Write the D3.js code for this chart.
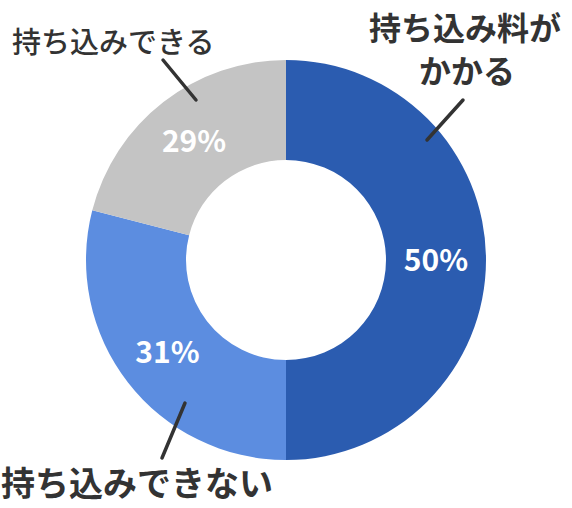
<!DOCTYPE html>
<html>
<head>
<meta charset="utf-8">
<script src="https://cdn.jsdelivr.net/npm/d3@7"></script>
<style>
  body { margin: 0; background: #fff; }
  svg { display: block; font-family: "Noto Sans CJK JP", "Noto Sans", sans-serif; }
</style>
</head>
<body>
<div id="main"></div>
<script>
// chart data
const categories = ['持ち込み料がかかる', '持ち込みできない', '持ち込みできる'];
const sliceValues = [50, 29, 21];
const percentLabels = ['50%', '31%', '29%'];
const colors = ['#2b5cb0', '#5c8de0', '#c4c4c4'];

const svgWidth = 572;
const svgHeight = 508;
const center = { x: 286, y: 260 };
const outerRadius = 200;
const innerRadius = 100;

const svg = d3.select('#main')
  .append('svg')
  .attr('width', svgWidth)
  .attr('height', svgHeight);

const pie = d3.pie()
  .sort(null)
  .value((d) => d.value);

const arc = d3.arc()
  .innerRadius(innerRadius)
  .outerRadius(outerRadius);

const labelArc = d3.arc()
  .innerRadius(150)
  .outerRadius(150);

const dataset = categories.map((c, i) => ({ key: c, value: sliceValues[i], label: percentLabels[i] }));
const arcs = pie(dataset);

const g = svg.append('g')
  .attr('transform', `translate(${center.x}, ${center.y})`);

g.selectAll('path')
  .data(arcs)
  .enter()
  .append('path')
  .attr('d', arc)
  .attr('fill', (d, i) => colors[i]);

g.selectAll('text.pct')
  .data(arcs)
  .enter()
  .append('text')
  .attr('class', 'pct')
  .attr('x', (d) => labelArc.centroid(d)[0])
  .attr('y', (d) => labelArc.centroid(d)[1])
  .attr('text-anchor', 'middle')
  .attr('dy', '0.36em')
  .attr('fill', '#fff')
  .attr('font-size', 30)
  .attr('font-weight', 700)
  .text((d) => d.data.label);

// leader lines from each slice out to its category label
const leaders = [
  [[427, 140], [463, 100]],
  [[185, 403], [162, 458]],
  [[196, 100], [163, 60]]
];

svg.selectAll('line.leader')
  .data(leaders)
  .enter()
  .append('line')
  .attr('class', 'leader')
  .attr('x1', (d) => d[0][0])
  .attr('y1', (d) => d[0][1])
  .attr('x2', (d) => d[1][0])
  .attr('y2', (d) => d[1][1])
  .attr('stroke', '#333')
  .attr('stroke-width', 3.5)
  .attr('stroke-linecap', 'round');

// category labels
const topRight = svg.append('text')
  .attr('text-anchor', 'middle')
  .attr('fill', '#333')
  .attr('font-size', 32)
  .attr('font-weight', 700);
topRight.append('tspan').attr('x', 465).attr('y', 40).text('持ち込み料が');
topRight.append('tspan').attr('x', 467).attr('y', 83).text('かかる');

svg.append('text')
  .attr('x', 12)
  .attr('y', 53)
  .attr('fill', '#333')
  .attr('font-size', 29)
  .attr('font-weight', 500)
  .text(categories[2]);

svg.append('text')
  .attr('x', 1)
  .attr('y', 496)
  .attr('fill', '#333')
  .attr('font-size', 34)
  .attr('font-weight', 700)
  .text(categories[1]);
</script>
</body>
</html>
